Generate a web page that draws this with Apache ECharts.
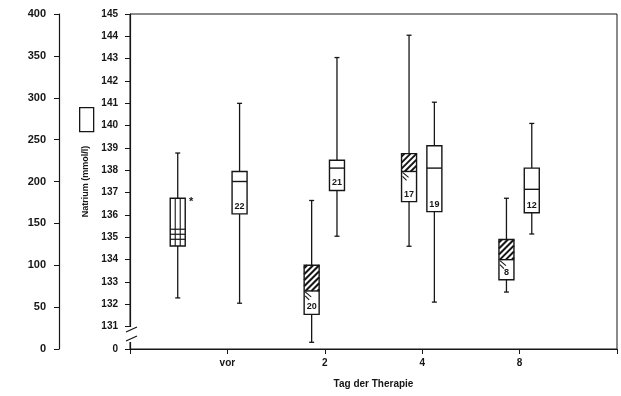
<!DOCTYPE html>
<html>
<head>
<meta charset="utf-8">
<script src="https://cdn.jsdelivr.net/npm/echarts@6/dist/echarts.min.js"></script>
<style>
  html, body { margin: 0; padding: 0; background: #fff; }
  #chart { width: 621px; height: 396px; }
</style>
</head>
<body>
<div id="chart"></div>
<script>
// Tage der Therapie (x-Achse), erste und letzte Position ohne Beschriftung
const xLabels = ["", "vor", "2", "4", "8", ""];
const tage = ["vor", "2", "4", "8"];

// Boxplots Natrium (mmol/l): [min, Q1, Median, Q3, max]
const schraffiert = [
  null,
  [130.3, 131.55, 132.6, 133.75, 136.65],
  [134.6, 136.6, 137.95, 138.75, 144.05],
  [132.55, 133.1, 134.0, 134.9, 136.75]
];
const offen = [
  [132.05, 136.05, 137.5, 137.95, 141.0],
  [135.05, 137.1, 138.1, 138.45, 143.05],
  [132.1, 136.15, 138.1, 139.1, 141.05],
  [135.15, 136.1, 137.15, 138.1, 140.1]
];
const nSchraffiert = [null, 20, 17, 8];
const nOffen = [22, 21, 19, 12];

// Referenzbox links (Skala 0-400): [min, Q1, Q3, max] und Rasterlinien
const referenz = [61, 123, 180, 234];
const referenzLinien = [131, 137, 143];

// linke Skalen
const innenMin = 130, innenMax = 145;
const aussenMin = 0, aussenMax = 400;

const chart = echarts.init(document.getElementById("chart"));

const INK = "#161616";
const FONT = "Liberation Sans";

function hatchLines(x0, y0, x1, y1, step) {
  const out = [];
  for (let c = x0 + y0 + step / 2; c < x1 + y1; c += step) {
    const xa = Math.max(x0, c - y1);
    const xb = Math.min(x1, c - y0);
    if (xb > xa) out.push([xa, c - xa, xb, c - xb]);
  }
  return out;
}

function line(x1, y1, x2, y2, w) {
  return {
    type: "line",
    shape: { x1, y1, x2, y2 },
    style: { stroke: INK, lineWidth: w || 1.3 }
  };
}

// Daten für die Boxen: [x, min, Q1, Median, Q3, max, n, schraffiert]
const boxData = [];
tage.forEach((t, i) => {
  if (schraffiert[i]) {
    boxData.push([i + 1 - 0.135, ...schraffiert[i], nSchraffiert[i], 1]);
  }
  boxData.push([i + 1 + 0.125, ...offen[i], nOffen[i], 0]);
});

function renderBox(params, api) {
  const x = api.value(0);
  const p = (v) => api.coord([x, v]);
  const cx = p(api.value(3))[0];
  const yMin = p(api.value(1))[1];
  const yQ1 = p(api.value(2))[1];
  const yMed = p(api.value(3))[1];
  const yQ3 = p(api.value(4))[1];
  const yMax = p(api.value(5))[1];
  const n = api.value(6);
  const hatched = api.value(7) === 1;
  const hw = 7.5;
  const children = [
    line(cx, yMax, cx, yQ3),
    line(cx, yQ1, cx, yMin),
    line(cx - 2.5, yMax, cx + 2.5, yMax),
    line(cx - 2.5, yMin, cx + 2.5, yMin),
    {
      type: "rect",
      shape: { x: cx - hw, y: yQ3, width: hw * 2, height: yQ1 - yQ3 },
      style: { fill: "#fff", stroke: INK, lineWidth: 1.4 }
    }
  ];
  if (hatched) {
    hatchLines(cx - hw, yQ3, cx + hw, yMed, 6).forEach((s) => {
      children.push(line(s[0], s[1], s[2], s[3], 2));
    });
    children.push(line(cx - hw + 1, yMed + 1, cx - hw + 7, yMed + 6, 1.1));
    children.push(line(cx - hw + 1, yMed + 5, cx - hw + 5, yMed + 9, 1.1));
  }
  children.push(line(cx - hw, yMed, cx + hw, yMed, 1.4));
  children.push({
    type: "text",
    style: {
      x: cx, y: yQ1 - 7.5,
      text: String(n),
      fill: INK,
      font: "bold 9px " + FONT,
      align: "center",
      verticalAlign: "middle"
    }
  });
  return { type: "group", children };
}

function renderReferenz(params, api) {
  const x = 0.49;
  const p = (v) => api.coord([x, v]);
  const cx = p(referenz[0])[0];
  const yMin = p(referenz[0])[1];
  const yQ1 = p(referenz[1])[1];
  const yQ3 = p(referenz[2])[1];
  const yMax = p(referenz[3])[1];
  const hw = 7.5;
  const children = [
    line(cx, yMax, cx, yQ3),
    line(cx, yQ1, cx, yMin),
    line(cx - 2.5, yMax, cx + 2.5, yMax),
    line(cx - 2.5, yMin, cx + 2.5, yMin),
    {
      type: "rect",
      shape: { x: cx - hw, y: yQ3, width: hw * 2, height: yQ1 - yQ3 },
      style: { fill: "#fff", stroke: INK, lineWidth: 1.4 }
    },
    line(cx - 2.5, yQ3, cx - 2.5, yQ1, 1.1),
    line(cx + 2.5, yQ3, cx + 2.5, yQ1, 1.1)
  ];
  referenzLinien.forEach((v) => {
    const y = p(v)[1];
    children.push(line(cx - hw, y, cx + hw, y, 1.2));
  });
  children.push({
    type: "text",
    style: {
      x: cx + hw + 6, y: yQ3 + 4,
      text: "*",
      fill: INK,
      font: "bold 11px " + FONT,
      align: "center",
      verticalAlign: "middle"
    }
  });
  return { type: "group", children };
}

chart.setOption({
  backgroundColor: "#fff",
  animation: false,
  grid: {
    left: 130, right: 4, top: 14, bottom: 47,
    show: true,
    borderColor: INK,
    borderWidth: 1,
    backgroundColor: "transparent",
    outerBoundsMode: "none"
  },
  xAxis: {
    type: "value",
    min: 0,
    max: 5,
    interval: 1,
    name: "Tag der Therapie",
    nameLocation: "middle",
    nameGap: 30,
    nameTextStyle: { color: INK, fontFamily: FONT, fontSize: 10, fontWeight: "bold" },
    axisLine: { show: true, lineStyle: { color: INK, width: 1.2 } },
    axisTick: { show: true, length: 5, lineStyle: { color: INK } },
    axisLabel: {
      color: INK, fontFamily: FONT, fontSize: 10, fontWeight: "bold", margin: 9,
      showMinLabel: true, showMaxLabel: true,
      formatter: (v) => xLabels[Math.round(v)] || ""
    },
    splitLine: { show: false }
  },
  yAxis: [
    {
      type: "value",
      position: "left",
      min: innenMin,
      max: innenMax,
      interval: 1,
      name: "Natrium (mmol/l)",
      nameLocation: "middle",
      nameRotate: 90,
      nameGap: 38,
      nameTextStyle: { color: INK, fontFamily: FONT, fontSize: 9, fontWeight: "bold" },
      axisLine: { show: true, lineStyle: { color: INK, width: 1.2 } },
      axisTick: { show: true, length: 5, lineStyle: { color: INK } },
      axisLabel: {
        color: INK, fontFamily: FONT, fontSize: 10, fontWeight: "bold", margin: 12,
        showMinLabel: true, showMaxLabel: true,
        formatter: (v) => (v === innenMin ? "0" : String(v))
      },
      splitLine: { show: false }
    },
    {
      type: "value",
      position: "left",
      offset: 71,
      min: aussenMin,
      max: aussenMax,
      interval: 50,
      axisLine: { show: true, lineStyle: { color: INK, width: 1.2 } },
      axisTick: { show: true, length: 5, lineStyle: { color: INK } },
      axisLabel: {
        color: INK, fontFamily: FONT, fontSize: 11, fontWeight: "bold", margin: 13,
        showMinLabel: true, showMaxLabel: true
      },
      splitLine: { show: false }
    }
  ],
  series: [
    {
      type: "custom",
      xAxisIndex: 0,
      yAxisIndex: 0,
      data: boxData,
      renderItem: renderBox,
      z: 5
    },
    {
      type: "custom",
      xAxisIndex: 0,
      yAxisIndex: 1,
      data: [referenz],
      renderItem: renderReferenz,
      z: 5
    }
  ],
  graphic: [
    {
      type: "rect",
      left: 79, top: 107,
      shape: { width: 14, height: 24 },
      style: { fill: "#fff", stroke: INK, lineWidth: 1.3 }
    },
    {
      type: "rect",
      left: 127, top: 327,
      shape: { width: 6, height: 15 },
      style: { fill: "#fff", stroke: null },
      z: 10
    },
    {
      type: "line",
      shape: { x1: 126, y1: 332, x2: 137, y2: 327 },
      style: { stroke: INK, lineWidth: 1.3 },
      z: 11
    },
    {
      type: "line",
      shape: { x1: 126, y1: 341, x2: 137, y2: 336 },
      style: { stroke: INK, lineWidth: 1.3 },
      z: 11
    }
  ]
});

window.addEventListener("resize", () => chart.resize());
</script>
</body>
</html>
